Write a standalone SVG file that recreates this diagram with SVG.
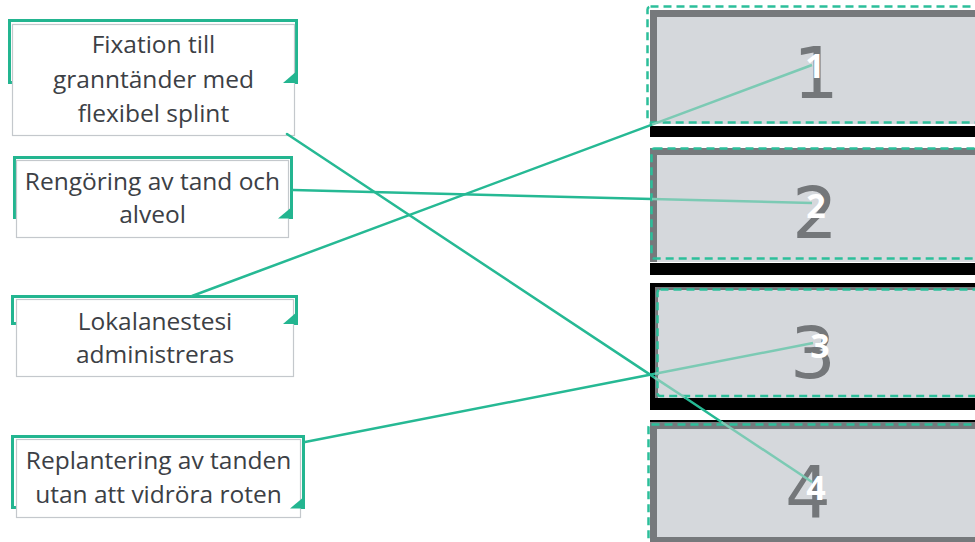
<svg xmlns="http://www.w3.org/2000/svg" width="975" height="542" viewBox="0 0 975 542">
  <style>
    .lbl { font-family: "Open Sans", "Liberation Sans", sans-serif; font-size: 24.5px; fill: #3c4045; text-anchor: middle; }
    .brk { fill: none; stroke: #23b590; stroke-width: 3; }
    .card { fill: #ffffff; stroke: #c4c8cc; stroke-width: 1.2; }
    .tri { fill: #23b590; }
    .frame { fill: #76797c; }
    .fill { fill: #d5d8dc; }
    .shadow { fill: #000000; }
    .dash { fill: none; stroke: #2cbf9a; stroke-width: 2.5; stroke-dasharray: 8 5; }
    .num { font-family: "DejaVu Sans", sans-serif; font-size: 72px; fill: #74777a; text-anchor: middle; }
    .end { font-family: "Open Sans", "DejaVu Sans", sans-serif; font-size: 34px; font-weight: bold; fill: #ffffff; text-anchor: middle; }
    .conn { stroke: #26b994; stroke-width: 2.5; stroke-linecap: round; fill: none; }
    .conn-in { stroke: #7ccab4; stroke-width: 2.5; fill: none; }
  </style>

  <!-- Left nodes -->
  <g id="item-fixation">
    <rect class="brk" x="9.5" y="20.5" width="287" height="62"/>
    <rect class="card" x="12.5" y="24.5" width="282" height="111"/>
    <polygon class="tri" points="298,70 298,83 283,83"/>
    <text class="lbl" x="153.5" y="53">Fixation till</text>
    <text class="lbl" x="153.5" y="88">granntänder med</text>
    <text class="lbl" x="153.5" y="122">flexibel splint</text>
  </g>

  <g id="item-rengoring">
    <rect class="brk" x="14.5" y="157.5" width="277" height="60"/>
    <rect class="card" x="16.5" y="160.5" width="272" height="77"/>
    <polygon class="tri" points="293,206 293,218.5 278,218.5"/>
    <text class="lbl" x="152.5" y="190">Rengöring av tand och</text>
    <text class="lbl" x="152.5" y="223">alveol</text>
  </g>

  <g id="item-lokalanestesi">
    <rect class="brk" x="12.5" y="296.5" width="284" height="27"/>
    <rect class="card" x="16.5" y="299.5" width="277" height="77"/>
    <polygon class="tri" points="298,311 298,324 283,324"/>
    <text class="lbl" x="155" y="330">Lokalanestesi</text>
    <text class="lbl" x="155" y="363">administreras</text>
  </g>

  <g id="item-replantering">
    <rect class="brk" x="12.5" y="436.5" width="291" height="71"/>
    <rect class="card" x="16.5" y="439.5" width="284" height="78"/>
    <polygon class="tri" points="305,496 305,508.5 290,508.5"/>
    <text class="lbl" x="158.5" y="469">Replantering av tanden</text>
    <text class="lbl" x="158.5" y="503">utan att vidröra roten</text>
  </g>

  <!-- Right target slots -->
  <g id="slot-1">
    <rect class="shadow" x="650" y="126" width="325" height="11"/>
    <rect class="frame" x="650" y="10" width="325" height="114"/>
    <rect class="fill" x="657" y="17" width="318" height="107"/>
    <rect class="dash" x="647.5" y="6.5" width="340" height="116" rx="3"/>
    <text class="num" x="816" y="98">1</text>
  </g>

  <g id="slot-2">
    <rect class="shadow" x="650" y="263" width="325" height="12"/>
    <rect class="frame" x="650" y="148" width="325" height="114"/>
    <rect class="fill" x="657" y="155" width="318" height="107"/>
    <rect class="dash" x="651.5" y="148.5" width="336" height="110" rx="3"/>
    <text class="num" x="815" y="238">2</text>
  </g>

  <g id="slot-3">
    <rect class="shadow" x="650" y="283" width="325" height="127"/>
    <rect class="frame" x="655" y="287" width="320" height="111"/>
    <rect class="fill" x="658" y="290" width="317" height="108"/>
    <rect class="dash" x="657.5" y="289.5" width="330" height="106.5" rx="3"/>
    <text class="num" x="813" y="378">3</text>
  </g>

  <g id="slot-4">
    <rect class="shadow" x="650" y="420" width="325" height="3"/>
    <rect class="frame" x="650" y="422" width="325" height="120"/>
    <rect class="fill" x="657" y="429" width="318" height="108"/>
    <rect class="dash" x="648.5" y="424.5" width="340" height="130" rx="3"/>
    <text class="num" x="808" y="517">4</text>
  </g>

  <!-- Connectors -->
  <g id="connectors">
    <!-- Fixation -> 4 -->
    <line class="conn" x1="287" y1="134" x2="655" y2="377.9"/>
    <line class="conn-in" x1="655" y1="377.9" x2="685.6" y2="398"/>
    <line class="conn" x1="685.6" y1="398" x2="721.5" y2="422"/>
    <line class="conn-in" x1="721.5" y1="422" x2="812" y2="482"/>
    <!-- Rengöring -> 2 -->
    <line class="conn" x1="293" y1="190" x2="652" y2="199"/>
    <line class="conn-in" x1="652" y1="199" x2="812" y2="203"/>
    <!-- Lokalanestesi -> 1 -->
    <line class="conn" x1="192" y1="296" x2="652" y2="124.6"/>
    <line class="conn-in" x1="652" y1="124.6" x2="812" y2="65"/>
    <!-- Replantering -> 3 -->
    <line class="conn" x1="305" y1="442" x2="655" y2="373.8"/>
    <line class="conn-in" x1="655" y1="373.8" x2="813" y2="343"/>
    <!-- endpoint numbers -->
    <text class="end" x="815" y="78">1</text>
    <text class="end" x="816" y="218">2</text>
    <text class="end" x="820" y="358">3</text>
    <text class="end" x="816" y="500">4</text>
  </g>
</svg>
